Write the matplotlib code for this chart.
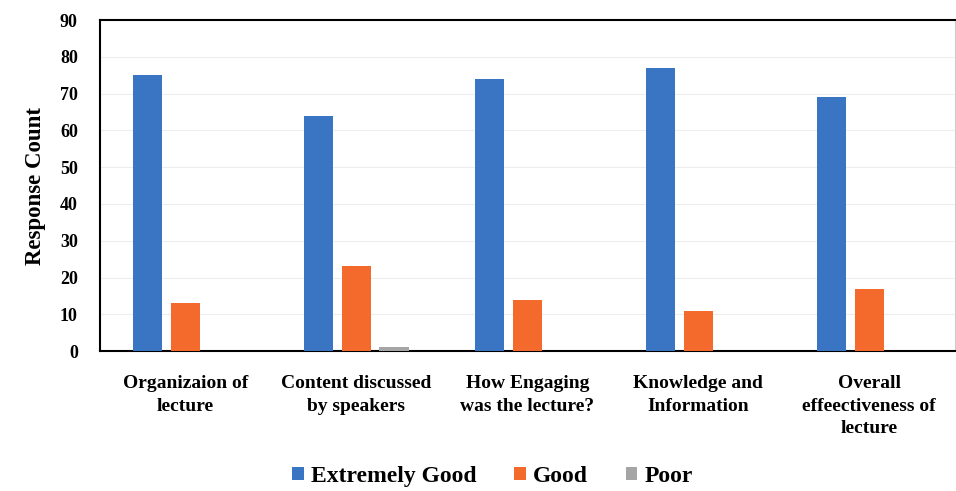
import matplotlib
matplotlib.use("Agg")
import matplotlib.pyplot as plt
import numpy as np

categories = ["Organizaion of\nlecture", "Content discussed\nby speakers",
              "How Engaging\nwas the lecture?", "Knowledge and\nInformation",
              "Overall\neffeectiveness of\nlecture"]
extremely_good = [75, 64, 74, 77, 69]
good = [13, 23, 14, 11, 17]
poor = [0, 1, 0, 0, 0]
series_names = ["Extremely Good", "Good", "Poor"]
colors = ["#3A75C4", "#F4692C", "#A5A5A5"]
yticks = list(range(0, 91, 10))

plt.rcParams['font.family'] = ['Liberation Serif', 'DejaVu Serif']
plt.rcParams['font.weight'] = 'bold'

fig = plt.figure(figsize=(9.56, 4.91), dpi=100)
ax = fig.add_axes([0.1046, 0.285, 0.894, 0.674])

x = np.arange(len(categories))
w = 0.17
step = 0.22
for i, (vals, name, c) in enumerate(zip([extremely_good, good, poor], series_names, colors)):
    ax.bar(x + (i - 1) * step, vals, width=w, color=c, label=name, zorder=3)

ax.set_xlim(-0.5, len(categories) - 0.5)
ax.set_ylim(0, 90)
ax.set_yticks(yticks)
ax.set_yticklabels([str(t) for t in yticks], fontsize=13, fontweight='bold')
ax.set_xticks(x)
ax.set_xticklabels(categories, fontsize=14, fontweight='bold', linespacing=1.45)
ax.tick_params(axis='x', length=0, pad=17)
ax.tick_params(axis='y', length=0, pad=16)
ax.yaxis.grid(True, color='#EDEDED', linewidth=0.8, zorder=0)
ax.set_axisbelow(True)

for s in ['top', 'left', 'bottom']:
    ax.spines[s].set_color('black')
    ax.spines[s].set_linewidth(1.5)
ax.spines['right'].set_color('#CCCCCC')
ax.spines['right'].set_linewidth(0.8)

ax.set_ylabel("Response Count", fontsize=16.5, fontweight='bold', labelpad=10)

fig.legend(loc='lower center', bbox_to_anchor=(0.515, -0.035), ncol=3, frameon=False,
           prop={'size': 17, 'weight': 'bold'}, handlelength=0.5, handleheight=0.5,
           handletextpad=0.3, columnspacing=1.6)

fig.savefig("out.png", dpi=100)
